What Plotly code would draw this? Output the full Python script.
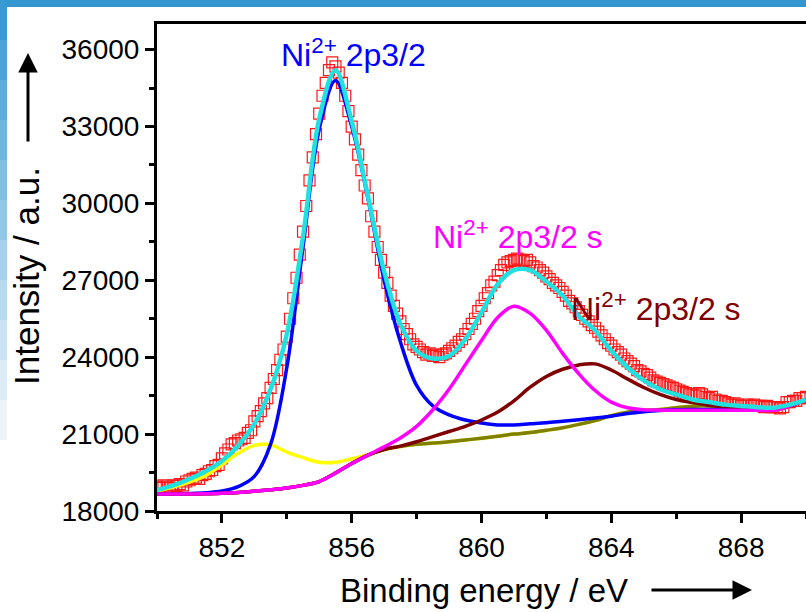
import numpy as np
import plotly.graph_objects as go

# ---------------- data ----------------
# measured spectrum, 850.0 ... 870.0 eV in 0.1 eV steps
energy_meas = np.round(np.arange(850.0, 870.0001, 0.1), 1)
counts_meas = [
    18950, 18900, 19000, 18950, 18900, 19000, 18980, 19050, 19000, 19150,
    19200, 19250, 19300, 19250, 19400, 19450, 19550, 19600, 19750, 19800,
    20050, 20250, 20400, 20600, 20650, 20750, 20800, 20850, 21050, 21150,
    21500, 21700, 21900, 22200, 22400, 22800, 23150, 23500, 23900, 24300,
    24800, 25500, 26300, 27100, 28000, 28900, 29900, 30900, 31800, 32700,
    33500, 34200, 34700, 35200, 35500, 35350, 35100, 34700, 34200, 33600,
    33000, 32500, 31900, 31300, 30700, 30200, 29500, 28900, 28300, 27800,
    27300, 26900, 26400, 26000, 25700, 25400, 25100, 24900, 24700, 24500,
    24400, 24300, 24200, 24100, 24150, 24050, 24100, 24000, 24100, 24150,
    24250, 24350, 24450, 24600, 24700, 24900, 25100, 25300, 25500, 25800,
    26000, 26300, 26500, 26800, 26950, 27200, 27400, 27600, 27700, 27750,
    27800, 27850, 27800, 27750, 27800, 27700, 27550, 27500, 27400, 27300,
    27150, 27050, 26900, 26800, 26700, 26550, 26400, 26200, 26100, 25950,
    25800, 25650, 25500, 25400, 25250, 25150, 25000, 24850, 24700, 24550,
    24450, 24300, 24200, 24100, 23950, 23850, 23750, 23650, 23500, 23450,
    23350, 23300, 23200, 23100, 23050, 23000, 22950, 22900, 22850, 22800,
    22750, 22700, 22650, 22600, 22550, 22550, 22500, 22600, 22550, 22450,
    22400, 22450, 22350, 22300, 22300, 22250, 22200, 22150, 22200, 22150,
    22100, 22100, 22150, 22100, 22150, 22100, 22100, 22050, 22100, 22050,
    22050, 22050, 22000, 22050, 22250, 22250, 22300, 22300, 22400, 22400,
    22450,
]

# fitted curves, 850.0 ... 870.0 eV in 0.5 eV steps
energy_fit = np.round(np.arange(850.0, 870.0001, 0.5), 1)
envelope = [18820, 19000, 19250, 19550, 19950, 20550, 21400, 22750, 24900, 28700,
            33300, 35200, 33200, 30300, 27350, 25300, 24250, 23950, 24050, 24700,
            25750, 26850, 27400, 27400, 26950, 26400, 25600, 25050, 24250, 23600,
            23100, 22750, 22550, 22350, 22250, 22150, 22100, 22050, 22030, 22150,
            22350]
main_peak = [18660, 18665, 18680, 18710, 18780, 18950, 19350, 20600, 23600, 28300,
             32900, 34800, 33000, 30200, 27000, 24600, 22900, 22100, 21750, 21550,
             21430, 21360, 21360, 21400, 21440, 21500, 21560, 21630, 21700, 21800,
             21870, 21920, 21950, 21960, 21960, 21950, 21950, 21940, 21940, 22100,
             22350]
background = [18660, 18660, 18665, 18670, 18690, 18720, 18770, 18830, 18900, 19000,
              19150, 19480, 19850, 20180, 20400, 20520, 20600, 20650, 20700, 20770,
              20840, 20920, 21000, 21060, 21150, 21250, 21380, 21530, 21720, 21850,
              21920, 21960, 22030, 22090, 22100, 22050, 22000, 21960, 21940, 22100,
              22350]
metal_peak = [18780, 18930, 19130, 19380, 19800, 20250, 20560, 20580, 20300, 20080,
              19900, 19900, 20040, 20200, 20400, 20520, 20600, 20650, 20700, 20770,
              20840, 20920, 21000, 21060, 21150, 21250, 21380, 21530, 21720, 21850,
              21920, 21960, 22030, 22090, 22100, 22050, 22000, 21960, 21940, 22100,
              22350]
satellite_1 = [18660, 18660, 18665, 18670, 18690, 18720, 18770, 18830, 18900, 19000,
               19150, 19480, 19850, 20180, 20500, 20850, 21300, 21950, 22750, 23700,
               24650, 25550, 25990, 25710, 25050, 24150, 23350, 22700, 22250, 22030,
               21950, 21935, 21930, 21930, 21930, 21930, 21930, 21930, 21930, 22100,
               22350]
satellite_2 = [18660, 18660, 18665, 18670, 18690, 18720, 18770, 18830, 18900, 19000,
               19150, 19480, 19850, 20180, 20400, 20530, 20700, 20900, 21100, 21300,
               21550, 21860, 22300, 22830, 23250, 23530, 23700, 23740, 23500, 23150,
               22820, 22550, 22350, 22230, 22130, 22070, 22020, 21980, 21950, 22100,
               22350]

x_ticks = [852, 856, 860, 864, 868]
y_ticks = [18000, 21000, 24000, 27000, 30000, 33000, 36000]
label_main = "Ni<sup>2+</sup> 2p3/2"
label_sat = "Ni<sup>2+</sup> 2p3/2 s"

# ---------------- figure ----------------
W, H = 806, 612
L, T, B = 157, 24, 101
PW, PH = W - L, H - T - B


def px(xp):
    return (xp - L) / PW


def py(yp):
    return (H - B - yp) / PH


FONT = "Liberation Sans, Arial, sans-serif"

fig = go.Figure()
fig.add_trace(go.Scatter(x=energy_meas, y=counts_meas, mode="markers",
                         marker=dict(symbol="square-open", size=11, color="#ff0000",
                                     line=dict(width=1.2, color="#ff0000")),
                         opacity=0.9, showlegend=False))
fig.add_trace(go.Scatter(x=energy_fit, y=metal_peak, mode="lines", line_shape="spline",
                         line=dict(color="#ffff00", width=3.5), showlegend=False))
fig.add_trace(go.Scatter(x=energy_fit, y=background, mode="lines", line_shape="spline",
                         line=dict(color="#808000", width=3.5), showlegend=False))
fig.add_trace(go.Scatter(x=energy_fit, y=main_peak, mode="lines", line_shape="spline",
                         line=dict(color="#0000ff", width=3.5), showlegend=False))
fig.add_trace(go.Scatter(x=energy_fit, y=satellite_2, mode="lines", line_shape="spline",
                         line=dict(color="#800000", width=3.5), showlegend=False))
fig.add_trace(go.Scatter(x=energy_fit, y=satellite_1, mode="lines", line_shape="spline",
                         line=dict(color="#ff00ff", width=3.5), showlegend=False))
fig.add_trace(go.Scatter(x=energy_fit, y=envelope, mode="lines", line_shape="spline",
                         line=dict(color="#20e0e0", width=4.5), showlegend=False))

axis_common = dict(showline=True, linewidth=3, linecolor="black", ticks="outside",
                   ticklen=9, tickwidth=3, tickcolor="black", showgrid=False,
                   zeroline=False, tickfont=dict(family=FONT, size=28, color="black"))
fig.update_xaxes(range=[850, 870], tickvals=x_ticks, mirror=True,
                 minor=dict(dtick=2, tick0=850, ticks="outside", ticklen=5,
                            tickwidth=3, tickcolor="black", showgrid=False),
                 **axis_common)
fig.update_yaxes(range=[18000, 37000], tickvals=y_ticks, tickformat="d",
                 minor=dict(dtick=1500, tick0=18000, ticks="outside", ticklen=5,
                            tickwidth=3, tickcolor="black", showgrid=False),
                 **axis_common)

# slide-style decoration: blue band on top, fading blue strip on the left
shapes = [dict(type="rect", xref="paper", yref="paper", x0=px(0), x1=px(W),
               y0=py(7), y1=py(0), fillcolor="#3396cf", line_width=0)]
seg = 40
for i in range(14):
    y0p = i * seg
    t = min(1.0, i / 11)
    r = int(0x3a + (255 - 0x3a) * t)
    g = int(0x9a + (255 - 0x9a) * t)
    b_ = int(0xd4 + (255 - 0xd4) * t)
    shapes.append(dict(type="rect", xref="paper", yref="paper", x0=px(0), x1=px(7),
                       y0=py(y0p + seg), y1=py(y0p), fillcolor=f"rgb({r},{g},{b_})",
                       line_width=0))

annotations = [
    dict(x=853.75, y=35850, xref="x", yref="y", text=label_main, showarrow=False,
         xanchor="left", yanchor="middle", font=dict(family=FONT, size=32, color="#0000ff")),
    dict(x=858.45, y=28750, xref="x", yref="y", text=label_sat, showarrow=False,
         xanchor="left", yanchor="middle", font=dict(family=FONT, size=32, color="#ff00ff")),
    dict(x=862.7, y=25950, xref="x", yref="y", text=label_sat, showarrow=False,
         xanchor="left", yanchor="middle", font=dict(family=FONT, size=32, color="#800000")),
    dict(x=px(26), y=py(276), xref="paper", yref="paper", text="Intensity / a.u.",
         textangle=-90, showarrow=False, xanchor="center", yanchor="middle",
         font=dict(family=FONT, size=35, color="black")),
    dict(x=px(484), y=py(590), xref="paper", yref="paper", text="Binding energy / eV",
         showarrow=False, xanchor="center", yanchor="middle",
         font=dict(family=FONT, size=33, color="black")),
    dict(x=px(28), y=py(53), xref="paper", yref="paper", text="", showarrow=True,
         ax=0, ay=90, arrowhead=2, arrowsize=1.3, arrowwidth=3, arrowcolor="black"),
    dict(x=px(752), y=py(590), xref="paper", yref="paper", text="", showarrow=True,
         ax=-102, ay=0, arrowhead=2, arrowsize=1.3, arrowwidth=3, arrowcolor="black"),
]

fig.update_layout(width=W, height=H, margin=dict(l=L, r=0, t=T, b=B, pad=0),
                  paper_bgcolor="white", plot_bgcolor="white",
                  shapes=shapes, annotations=annotations, showlegend=False)

fig.write_html("out.html")
